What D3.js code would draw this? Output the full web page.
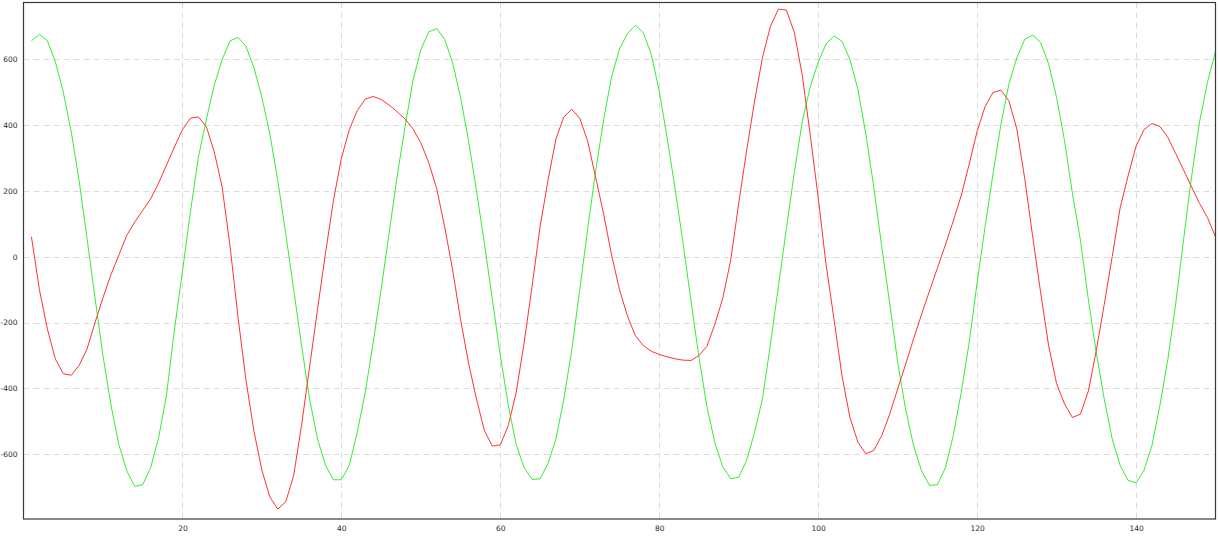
<!DOCTYPE html>
<html>
<head>
<meta charset="utf-8">
<script src="https://cdn.jsdelivr.net/npm/d3@7"></script>
<style>
  html, body { margin: 0; padding: 0; background: #fff; }
  svg { display: block; }
  text { font-family: "DejaVu Sans", sans-serif; }
</style>
</head>
<body>
<svg id="chart" width="1219" height="536"></svg>
<script>
// x positions 1..150
const xValues = d3.range(1, 151);

const redSeries = [
  60, -100, -219, -310, -355, -360, -330, -280, -200, -125,
  -55, 5, 65, 105, 140, 175, 223, 278, 333, 385,
  420, 424, 395, 318, 211, 30, -185, -375, -530, -648,
  -729, -766, -744, -664, -510, -335, -160, 10, 170, 298,
  385, 443, 478, 486, 477, 460, 440, 418, 388, 345,
  285, 206, 90, -40, -191, -322, -432, -528, -575, -571,
  -513, -412, -261, -90, 90, 231, 357, 424, 447, 420,
  350, 240, 130, 5, -100, -180, -240, -270, -287, -297,
  -304, -310, -314, -315, -300, -272, -205, -126, -10, 161,
  322, 472, 605, 699, 751, 748, 680, 550, 370, 180,
  -25, -191, -362, -488, -563, -598, -588, -543, -478, -402,
  -327, -250, -176, -105, -35, 35, 108, 185, 280, 380,
  455, 498, 505, 473, 387, 236, 60, -110, -270, -385,
  -447, -488, -478, -408, -285, -145, 0, 148, 245, 335,
  385, 404, 395, 362, 312, 262, 211, 161, 118, 60
];

const greenSeries = [
  655, 674, 655, 592, 500, 380, 230, 55, -125, -300,
  -450, -570, -650, -697, -692, -640, -550, -420, -220, -45,
  135, 300, 415, 520, 598, 655, 665, 638, 573, 483,
  372, 231, 70, -100, -271, -432, -553, -633, -677, -677,
  -633, -533, -412, -261, -100, 70, 241, 392, 533, 628,
  682, 692, 659, 588, 483, 352, 200, 40, -130, -300,
  -450, -570, -640, -676, -674, -628, -553, -432, -282, -100,
  85, 260, 415, 545, 630, 677, 702, 679, 613, 503,
  360, 205, 40, -135, -305, -455, -565, -638, -674, -669,
  -618, -533, -430, -265, -90, 85, 255, 410, 515, 590,
  645, 670, 653, 598, 508, 372, 211, 30, -141, -320,
  -463, -573, -649, -694, -692, -641, -543, -412, -261, -80,
  90, 251, 402, 523, 603, 660, 672, 649, 585, 483,
  352, 191, 50, -130, -292, -432, -553, -633, -679, -686,
  -649, -573, -452, -312, -141, 55, 245, 410, 530, 623
];

const xTicks = [20, 40, 60, 80, 100, 120, 140];
const yTicks = [-600, -400, -200, 0, 200, 400, 600];

const svg = d3.select("#chart");
const pLeft = 23.5, pRight = 1215.5, pTop = 2.5, pBottom = 519;

const x = d3.scaleLinear().domain([0, 150]).range([pLeft, pRight]);
const y = d3.scaleLinear().domain([-796, 771]).range([pBottom, pTop]);

// grid
const grid = svg.append("g");
grid.selectAll("line.h").data(yTicks).join("line")
  .attr("x1", pLeft).attr("x2", pRight)
  .attr("y1", d => Math.round(y(d)) + 0.5).attr("y2", d => Math.round(y(d)) + 0.5)
  .attr("stroke", "#dcdcdc").attr("stroke-width", 1).attr("stroke-dasharray", "6,4");
grid.selectAll("line.v").data(xTicks).join("line")
  .attr("y1", pTop).attr("y2", pBottom)
  .attr("x1", d => Math.round(x(d)) + 0.5).attr("x2", d => Math.round(x(d)) + 0.5)
  .attr("stroke", "#dcdcdc").attr("stroke-width", 1).attr("stroke-dasharray", "6,4");

// axes (labels only)
const yAxis = d3.axisLeft(y).tickValues(yTicks).tickSize(0).tickPadding(6)
  .tickFormat(d => String(d));
const gy = svg.append("g").attr("transform", `translate(${pLeft},0)`).call(yAxis);
gy.select(".domain").remove();
gy.selectAll("text").attr("font-size", "7.5px").attr("fill", "#2a2a2a")
  .attr("font-family", "DejaVu Sans, sans-serif");

const xAxis = d3.axisBottom(x).tickValues(xTicks).tickSize(0).tickPadding(7)
  .tickFormat(d => String(d));
const gx = svg.append("g").attr("transform", `translate(0,${pBottom})`).call(xAxis);
gx.select(".domain").remove();
gx.selectAll("text").attr("font-size", "7.5px").attr("fill", "#2a2a2a")
  .attr("font-family", "DejaVu Sans, sans-serif");

// lines
svg.append("clipPath").attr("id", "plotclip").append("rect")
  .attr("x", pLeft).attr("y", pTop).attr("width", pRight - pLeft).attr("height", pBottom - pTop);

const line = d3.line().x((d, i) => x(xValues[i])).y(d => y(d));
const lines = svg.append("g").attr("clip-path", "url(#plotclip)");
lines.append("path").datum(greenSeries).attr("d", line)
  .attr("fill", "none").attr("stroke", "#33ee33").attr("stroke-width", 1);
lines.append("path").datum(redSeries).attr("d", line)
  .attr("fill", "none").attr("stroke", "#ff3333").attr("stroke-width", 1);

// frame
svg.append("rect")
  .attr("x", pLeft).attr("y", pTop)
  .attr("width", pRight - pLeft).attr("height", pBottom - pTop)
  .attr("fill", "none").attr("stroke", "#3a3a3a").attr("stroke-width", 1.2);
</script>
</body>
</html>
